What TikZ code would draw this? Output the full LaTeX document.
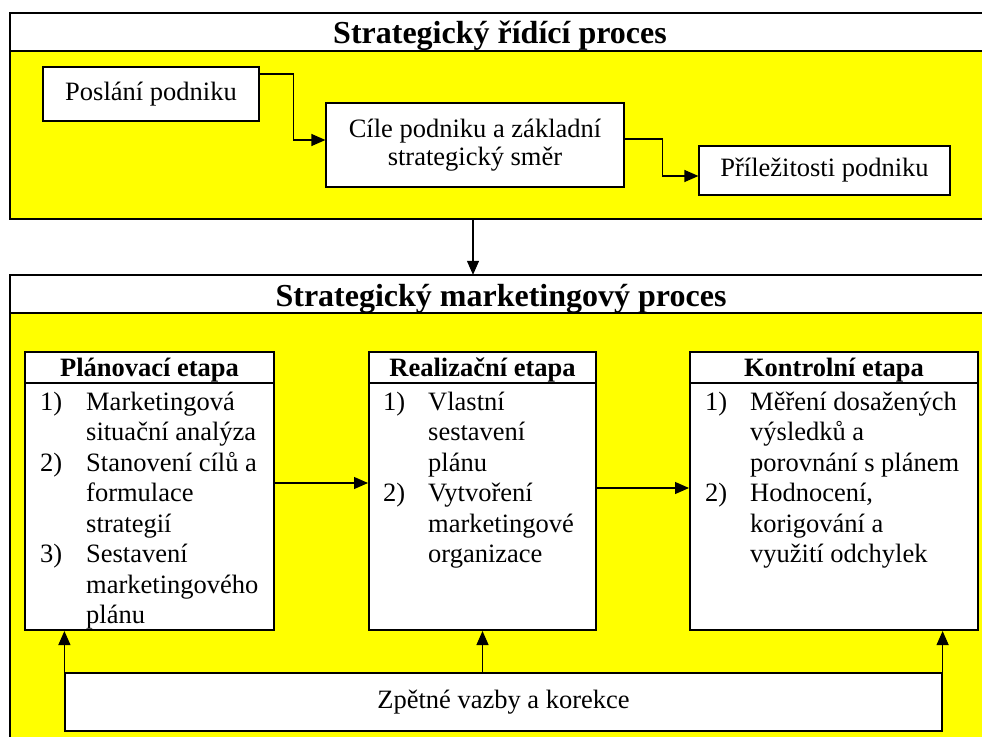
\documentclass[tikz,border=0pt]{standalone}
\usepackage{fontspec}
\setmainfont{Liberation Serif}
\usetikzlibrary{arrows.meta}
\definecolor{ylw}{RGB}{255,255,0}
\begin{document}
\begin{tikzpicture}[x=1pt,y=-1pt,
  bigframe/.style={fill=ylw, rectangle, inner sep=0pt, minimum width=980pt},
  smallbox/.style={draw, line width=1.2pt, fill=white, rectangle, inner sep=0pt, align=center, font=\fontsize{26.5}{28}\selectfont},
  stagebox/.style={draw, line width=2pt, fill=white, rectangle, inner sep=0pt, minimum height=278pt},
  ttl/.style={font=\bfseries\fontsize{32}{36}\selectfont, inner sep=0pt, anchor=base},
  hdr/.style={font=\bfseries\fontsize{26.5}{30}\selectfont, inner sep=0pt, anchor=base},
  lst/.style={font=\fontsize{26.5}{30.5}\selectfont, inner sep=0pt, anchor=base west},
  sep/.style={line width=2pt},
  arr/.style={-{Triangle[length=14pt,width=12pt]}, line width=1.2pt}]
\clip (0,0) rectangle (982,736);
\fill[white] (0,0) rectangle (982,736);
% top frame
\node[bigframe, minimum height=206pt] (topframe) at (500,116) {};
\fill[white] (topframe.north west) rectangle ([yshift=-38pt]topframe.north east);
\draw[sep] (topframe.north west) rectangle (topframe.south east);
\draw[sep] ([yshift=-38pt]topframe.north west) -- ([yshift=-38pt]topframe.north east);
\node[ttl] (toptitle) at (500,43) {Strategický řídící proces};
\node[smallbox, minimum width=216pt, minimum height=54pt] (b1) at (151,94) {Poslání podniku};
\node[smallbox, minimum width=298pt, minimum height=84pt] (b2) at (475,145) {Cíle podniku a základní\\strategický směr};
\node[smallbox, minimum width=251pt, minimum height=49pt] (b3) at (824.5,170.5) {Příležitosti podniku};
\draw[arr] ([yshift=20pt]b1.east) -- ++(34pt,0) |- ([yshift=5pt]b2.west);
\draw[arr] ([yshift=6pt]b2.east) -- ++(38pt,0) |- ([yshift=-5.5pt]b3.west);
% bottom frame
\node[bigframe, minimum height=480pt] (botframe) at (500,515) {};
\fill[white] (botframe.north west) rectangle ([yshift=-38pt]botframe.north east);
\draw[sep] (botframe.north west) rectangle (botframe.south east);
\draw[sep] ([yshift=-38pt]botframe.north west) -- ([yshift=-38pt]botframe.north east);
\node[ttl] (bottitle) at (501,306) {Strategický marketingový proces};
\draw[arr] ([xshift=-27pt]topframe.south) -- ([xshift=-27pt]botframe.north);
% stages
\node[stagebox, minimum width=249pt] (plan) at (149.5,491) {};
\node[stagebox, minimum width=227pt] (real) at (482.5,491) {};
\node[stagebox, minimum width=288pt] (kontr) at (834,491) {};
\draw[sep] ([yshift=-32pt]plan.north west) -- ([yshift=-32pt]plan.north east);
\draw[sep] ([yshift=-32pt]real.north west) -- ([yshift=-32pt]real.north east);
\draw[sep] ([yshift=-32pt]kontr.north west) -- ([yshift=-32pt]kontr.north east);
\node[hdr] (planh) at (149.5,376) {Plánovací etapa};
\node[hdr] (realh) at (482.5,376) {Realizační etapa};
\node[hdr] (kontrh) at (834,376) {Kontrolní etapa};
\node[lst] (planl) at (40,410) {\begin{tabular}[t]{@{}p{46pt}@{}l@{}}
1) & Marketingová\\
   & situační analýza\\
2) & Stanovení cílů a\\
   & formulace\\
   & strategií\\
3) & Sestavení\\
   & marketingového\\
   & plánu
\end{tabular}};
\node[lst] (reall) at (383,410) {\begin{tabular}[t]{@{}p{45pt}@{}l@{}}
1) & Vlastní\\
   & sestavení\\
   & plánu\\
2) & Vytvoření\\
   & marketingové\\
   & organizace
\end{tabular}};
\node[lst] (kontrl) at (705,410) {\begin{tabular}[t]{@{}p{45pt}@{}l@{}}
1) & Měření dosažených\\
   & výsledků a\\
   & porovnání s plánem\\
2) & Hodnocení,\\
   & korigování a\\
   & využití odchylek
\end{tabular}};
\draw[arr] ([yshift=8pt]plan.east) -- ([yshift=8pt]real.west);
\draw[arr] ([yshift=3pt]real.east) -- ([yshift=3pt]kontr.west);
% feedback
\node[smallbox, minimum width=877pt, minimum height=58pt] (fb) at (503.5,702) {Zpětné vazby a korekce};
\draw[arr] (fb.north west) -- (fb.north west |- plan.south);
\draw[arr] (fb.north -| real.south) -- (real.south);
\draw[arr] (fb.north east) -- (fb.north east |- kontr.south);
\end{tikzpicture}
\end{document}
